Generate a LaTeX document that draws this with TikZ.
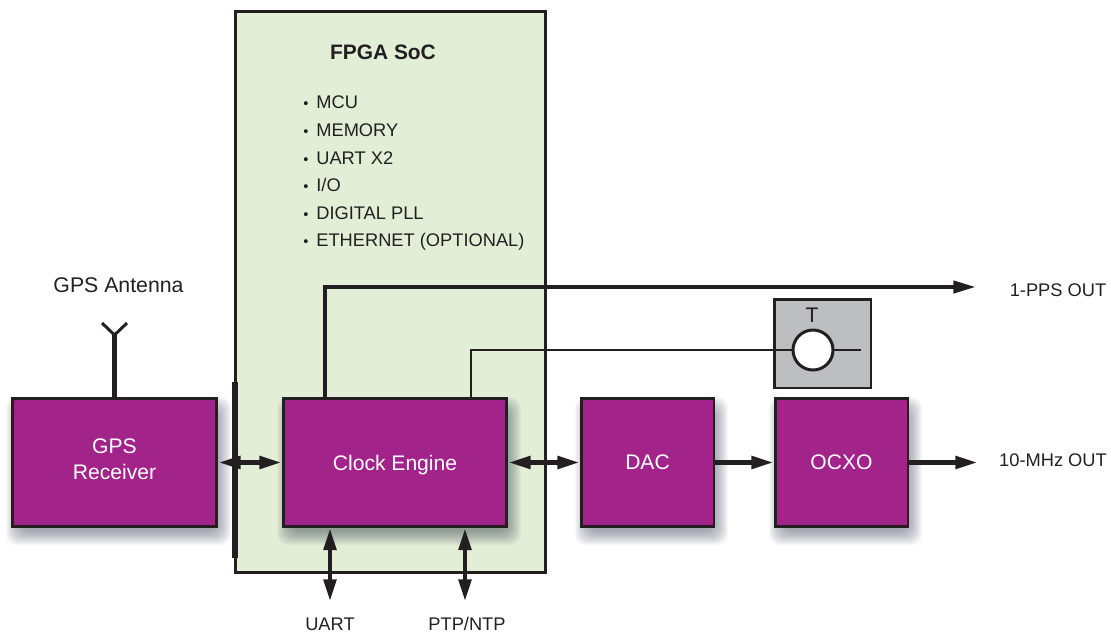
\documentclass[tikz,border=0pt]{standalone}
\usepackage{fontspec}
\setmainfont{Liberation Sans}
\usepackage{tikz}
\usetikzlibrary{arrows.meta,positioning,calc}
\definecolor{socgreen}{HTML}{E2EFD6}
\definecolor{blockpurple}{HTML}{A2238A}
\definecolor{tempgray}{HTML}{BCBEC0}
\definecolor{inkdark}{HTML}{231F20}
\definecolor{shadowblue}{HTML}{3C4258}
\tikzset{
	block/.style={draw=inkdark,fill=blockpurple,line width=1.7pt,text=white,align=center,font=\fontsize{12}{14.8}\selectfont,
		inner sep=0pt,outer sep=0pt},
	shadowlayer/.style={fill=shadowblue,fill opacity=0.04,rounded corners=6pt},
	wire/.style={draw=inkdark,line width=1.7pt},
	bus/.style={wire,line width=2.5pt,-{Triangle[length=0.44cm,width=0.25cm]},shorten >=1pt},
	dualbus/.style={bus,{Triangle[length=0.44cm,width=0.25cm]}-{Triangle[length=0.44cm,width=0.25cm]},shorten <=1pt},
	label/.style={text=inkdark,inner sep=0pt,font=\fontsize{10.4}{12}\selectfont},
}
\begin{document}
\begin{tikzpicture}[x=0.02cm,y=-0.02cm]
	\useasboundingbox (0,0) rectangle (1111,632);
	% shadows under the gps and dac blocks come first
	\foreach \xa/\xb in {12/217,581/714,775/908} {
		\foreach \s in {-4,...,10} {
			\fill[shadowlayer] (\xa+4-\s,399+8-\s) rectangle (\xb+4+\s,527+8+\s);
		}
	}
	% soc background
	\node[draw=inkdark,fill=socgreen,line width=1.7pt,minimum width=6.22cm,minimum height=11.24cm,inner sep=0pt,outer sep=0pt] (soc) at (390.5,292) {};
	\node[label,font=\fontsize{11.9}{13}\selectfont\bfseries] (soctitle) at (383,52) {FPGA SoC};
	% feature list
	\foreach \i/\y/\t in {1/102/{MCU},2/130/{MEMORY},3/158/{UART X2},4/185/{I/O},5/213/{DIGITAL PLL},6/240/{ETHERNET (OPTIONAL)}} {
		\node[label,anchor=base west] (item\i) at (303,\y+6) {\makebox[0.26cm][l]{\scalebox{0.8}{\textbullet}}\t};
	}
	% clock engine shadow sits on the green
	\foreach \s in {-4,...,10} {
		\fill[shadowlayer] (283+4-\s,399+8-\s) rectangle (507+4+\s,527+8+\s);
	}
	% boundary bar
	\coordinate (bartop) at (235,382);
	\coordinate (barbot) at (235,558);
	\draw[wire,line width=2.9pt] (bartop) -- (barbot);
	% blocks
	\node[block,minimum width=4.1cm,minimum height=2.56cm] (gps) at (114.5,462.5) {};
	\node[label,text=white,align=center,font=\fontsize{12}{14.8}\selectfont] (gpstext) at (114.5,459) {GPS\\Receiver};
	\node[block,minimum width=4.48cm,minimum height=2.56cm,text depth=0pt] (clock) at (395,462.5) {Clock Engine};
	\node[block,minimum width=2.66cm,minimum height=2.56cm] (dac) at (647.5,462.5) {DAC};
	\node[block,minimum width=2.66cm,minimum height=2.56cm] (ocxo) at (841.5,462.5) {OCXO};
	% temperature sensor
	\node[draw=inkdark,fill=tempgray,line width=1.7pt,minimum width=1.94cm,minimum height=1.78cm,inner sep=0pt,outer sep=0pt] (tbox) at (822.5,343.5) {};
	\node[label,font=\fontsize{12}{14}\selectfont] (tlabel) at (812,315) {T};
	\coordinate (tapone) at (325,399);
	\coordinate (taptwo) at (471,399);
	\coordinate (tstub) at (861,350);
	\draw[wire,line width=1.65pt] (taptwo) |- (tstub);
	\node[circle,draw=inkdark,fill=white,line width=1.7pt,minimum size=0.8cm,inner sep=0pt,outer sep=0pt] (tsense) at (813,350) {};
	% antenna
	\coordinate (antbase) at (114.5,335);
	\coordinate (antleft) at (102,323);
	\coordinate (antright) at (127,323);
	\draw[wire,line width=2.4pt] (gps.north) -- (antbase);
	\draw[wire] (antleft) -- (antbase) -- (antright);
	\node[label,font=\fontsize{12.1}{14}\selectfont] (antlabel) at (118.5,285) {GPS Antenna};
	% outputs
	\coordinate (ppsend) at (977,287);
	\coordinate (mhzend) at (979,462.5);
	\draw[bus,line width=1.75pt] (tapone) |- (ppsend);
	\draw[bus] (ocxo.east) -- (mhzend);
	\node[label] (ppslabel) at (1058,290) {1-PPS OUT};
	\node[label] (mhzlabel) at (1053,460) {10-MHz OUT};
	% links between blocks
	\draw[dualbus] (gps.east) -- (clock.west);
	\draw[dualbus] (clock.east) -- (dac.west);
	\draw[bus] (dac.east) -- (ocxo.west);
	% bottom ports
	\coordinate (uartend) at (330,603);
	\coordinate (ptpend) at (465,603);
	\draw[dualbus] (uartend) -- (uartend |- clock.south);
	\draw[dualbus] (ptpend) -- (ptpend |- clock.south);
	\node[label] (uart) at (330,624) {UART};
	\node[label] (ptp) at (467,624) {PTP/NTP};
\end{tikzpicture}
\end{document}
